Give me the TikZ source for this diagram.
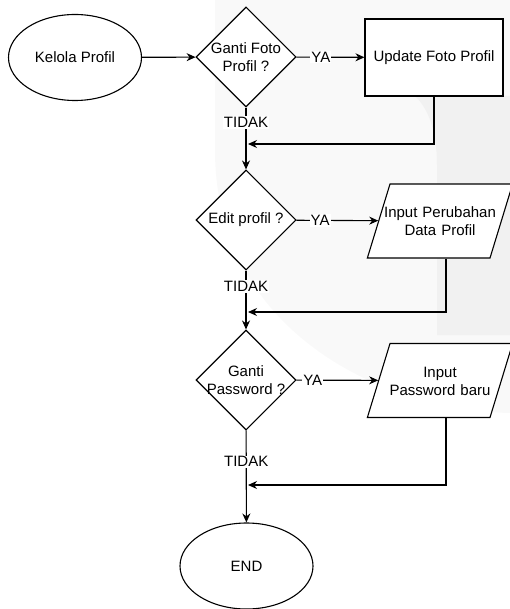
\documentclass[tikz,border=0pt]{standalone}
\usepackage{fontspec}
\setmainfont{Liberation Sans}
\usetikzlibrary{shapes.geometric,arrows.meta,positioning}
\newcommand{\flowFont}{\fontsize{15}{17.5}\selectfont}
\newcommand{\flowLine}{1.1pt}

\begin{document}
\begin{tikzpicture}[x=1pt, y=-1pt, line width=\flowLine,
		every node/.style={font=\flowFont, align=center},
		terminal/.style={draw, fill=white, ellipse, minimum width=133pt, minimum height=86pt, inner sep=0pt},
		decision/.style={draw, fill=white, diamond, minimum width=100pt, minimum height=100pt, inner sep=-14pt},
		process/.style={draw, fill=white, rectangle, minimum width=138pt, minimum height=77pt},
		inout/.style={draw, fill=white, trapezium, trapezium left angle=73, trapezium right angle=107,
			text width=136pt, inner xsep=-18pt, inner ysep=0pt, text height=34pt, text depth=40pt, anchor=text},
		flow/.style={-{Stealth[length=9pt,width=8pt]}},
		branch/.style={fill=white, inner sep=1pt}]
	\useasboundingbox (0,0) rectangle (510,609);
	% watermark
	\fill[gray!5] (215,0) -- (215,150) .. controls (215,330) and (380,410) .. (510,413) -- (510,0) -- cycle;
	\fill[gray!11] (415,96) .. controls (430,110) and (437,135) .. (437,165) -- (437,335) -- (510,335) -- (510,96) -- cycle;

	\node[terminal] (kelola) at (75,57.5) {Kelola Profil};
	\node[decision] (gantiFoto) at (246,57) {Ganti Foto\\Profil ?};
	\node[process] (updateFoto) at (434,57.5) {Update Foto Profil};

	\node[decision] (editProfil) at (246,220) {Edit profil ?};
	\node[inout] (inputData) at (372,218) {Input Perubahan\\Data Profil};

	\node[decision] (gantiPass) at (246,380) {Ganti\\Password ?};
	\node[inout] (inputPass) at (372,377.5) {Input\\Password baru};

	\node[terminal] (selesai) at (246.5,566) {END};

	\coordinate (join1) at (246,144);
	\coordinate (join2) at (246,312);
	\coordinate (join3) at (246,485);

	\draw[flow] (kelola) -- (gantiFoto);
	\draw[flow] (gantiFoto) -- node[branch, pos=0.36] {YA} (updateFoto);
	\draw[flow] (gantiFoto) -- node[branch, pos=0.24] {TIDAK} (editProfil);
	\draw[flow] (updateFoto.south) |- ([xshift=2pt]join1);

	\draw[flow] (editProfil) -- node[branch, pos=0.29] {YA} (inputData);
	\draw[flow] (editProfil) -- node[branch, pos=0.27] {TIDAK} (gantiPass);
	\draw[flow] ([xshift=6pt]inputData.south) |- ([xshift=2pt]join2);

	\draw[flow] (gantiPass) -- node[branch, pos=0.2] {YA} (inputPass);
	\draw[flow] (gantiPass) -- node[branch, pos=0.34] {TIDAK} (selesai);
	\draw[flow] ([xshift=6pt]inputPass.south) |- ([xshift=2pt]join3);
\end{tikzpicture}
\end{document}
